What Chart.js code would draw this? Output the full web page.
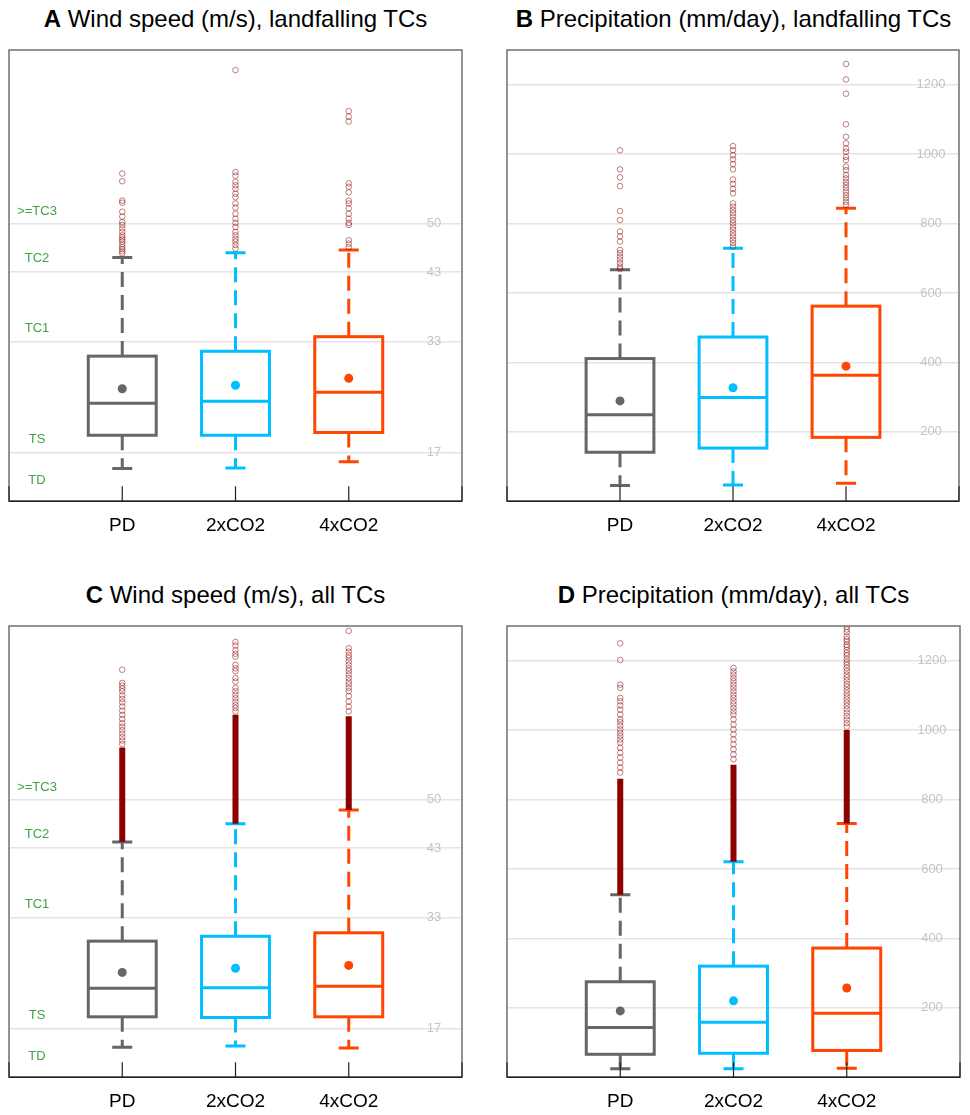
<!DOCTYPE html>
<html>
<head>
<meta charset="utf-8">
<script src="https://cdn.jsdelivr.net/npm/chart.js@4.4.0/dist/chart.umd.min.js"></script>
<style>
  body { margin: 0; background: #fff; }
  #wrap { position: relative; width: 970px; height: 1115px; font-family: "Liberation Sans", Arial, Helvetica, sans-serif; }
  .title { position: absolute; text-align: center; font-size: 24px; line-height: 24px; color: #000; white-space: nowrap; }
  canvas { position: absolute; }
</style>
</head>
<body>
<div id="wrap">
  <div class="title" style="left:9px;top:7px;width:453px"><b>A</b> Wind speed (m/s), landfalling TCs</div>
  <div class="title" style="left:507px;top:7px;width:453px"><b>B</b> Precipitation (mm/day), landfalling TCs</div>
  <div class="title" style="left:9px;top:583px;width:453px"><b>C</b> Wind speed (m/s), all TCs</div>
  <div class="title" style="left:507px;top:583px;width:453px"><b>D</b> Precipitation (mm/day), all TCs</div>
  <canvas id="chartA" width="485" height="510" style="left:0;top:40px"></canvas>
  <canvas id="chartB" width="485" height="510" style="left:485px;top:40px"></canvas>
  <canvas id="chartC" width="485" height="510" style="left:0;top:616px"></canvas>
  <canvas id="chartD" width="485" height="510" style="left:485px;top:616px"></canvas>
</div>
<script>
// categories and axis marks
const groups = ['PD', '2xCO2', '4xCO2'];
const windGrid = [17, 33, 43, 50];
const precipGrid = [200, 400, 600, 800, 1000, 1200];
const windClasses = ['TD', 'TS', 'TC1', 'TC2', '>=TC3'];
const windClassAt = [13.0, 18.9, 34.9, 45.0, 51.7];

// A: wind speed, landfalling TCs
const windLandLower = [14.7, 14.8, 15.7];
const windLandQ1 = [19.5, 19.5, 19.9];
const windLandMedian = [24.1, 24.4, 25.7];
const windLandMean = [26.2, 26.7, 27.7];
const windLandQ3 = [30.9, 31.6, 33.7];
const windLandUpper = [45.1, 45.8, 46.2];
const windLandOutPD = [57.2, 56.1, 53.3, 53.0, 51.7, 51.0, 50.2, 49.8, 49.3, 48.8, 48.3, 48.0, 47.7, 47.4, 47.0, 46.6, 46.3, 46.0, 45.7];
const windLandOut2x = [72.1, 57.4, 56.9, 56.0, 55.5, 55.0, 54.3, 53.8, 52.9, 52.3, 51.4, 50.7, 50.1, 49.5, 48.8, 48.3, 47.8, 47.4, 46.9, 46.4];
const windLandOut4x = [66.2, 65.4, 64.7, 55.8, 55.3, 54.5, 53.3, 52.9, 52.2, 51.4, 50.7, 50.1, 49.8, 47.6, 47.1, 46.6];

// B: precipitation, landfalling TCs
const precLandLower = [45, 47, 52];
const precLandQ1 = [141, 153, 184];
const precLandMedian = [249, 299, 363];
const precLandMean = [289, 327, 389];
const precLandQ3 = [411, 473, 562];
const precLandUpper = [667, 729, 844];
const precLandOutPD = [1011, 956, 933, 908, 836, 810, 777, 763, 748, 724, 715, 705, 696, 686, 676, 669];
const precLandOut2x = [1023, 1011, 997, 985, 971, 956, 927, 914, 900, 887, 858, 849, 839, 830, 820, 810, 801, 791, 782, 772, 763, 753, 744, 734];
const precLandOut4x = [1260, 1215, 1174, 1086, 1050, 1031, 1016, 1007, 992, 983, 964, 954, 940, 930, 920, 911, 902, 892, 882, 873, 863, 854];

// C: wind speed, all TCs (outliers so dense they merge into a solid band up to *BandTop)
const windAllLower = [14.3, 14.5, 14.2];
const windAllQ1 = [18.7, 18.6, 18.7];
const windAllMedian = [22.8, 22.9, 23.1];
const windAllMean = [25.1, 25.7, 26.1];
const windAllQ3 = [29.6, 30.3, 30.8];
const windAllUpper = [43.9, 46.5, 48.5];
const windAllBandTop = [57.5, 62.2, 62.0];
const windAllOutPD = [68.7, 66.8, 66.4, 66.0, 65.6, 65.0, 64.5, 64.0, 63.4, 62.8, 62.2, 61.6, 61.0, 60.5, 60.0, 59.5, 59.0, 58.5, 58.0];
const windAllOut2x = [72.7, 72.2, 71.5, 71.0, 70.6, 69.4, 68.9, 68.5, 67.5, 67.0, 66.1, 65.6, 65.1, 64.6, 64.1, 63.6, 63.2, 62.7];
const windAllOut4x = [74.3, 71.8, 71.3, 70.8, 70.4, 69.9, 69.4, 68.9, 68.5, 68.0, 67.5, 67.0, 66.6, 66.1, 65.6, 64.9, 64.1, 63.4, 62.7];

// D: precipitation, all TCs
const precAllLower = [24, 24, 26];
const precAllQ1 = [66, 69, 77];
const precAllMedian = [143, 158, 184];
const precAllMean = [191, 220, 257];
const precAllQ3 = [275, 320, 372];
const precAllUpper = [526, 621, 731];
const precAllBandTop = [860, 900, 1000];
const precAllOutPD = [1250, 1202, 1131, 1122, 1093, 1083, 1071, 1059, 1045, 1031, 1023, 1013, 1002, 992, 983, 973, 964, 949, 935, 921, 906, 892, 878];
const precAllOut2x = [1179, 1169, 1160, 1150, 1141, 1131, 1122, 1112, 1102, 1093, 1083, 1074, 1064, 1054, 1045, 1031, 1016, 1002, 988, 973, 959, 945, 930, 916];
const precAllOut4x = [1298, 1290, 1282, 1270, 1262, 1255, 1246, 1240, 1231, 1222, 1215, 1205, 1196, 1188, 1179, 1170, 1160, 1152, 1143, 1133, 1125, 1115, 1106, 1097, 1088, 1079, 1070, 1060, 1050, 1040, 1030, 1020, 1010];

// styles
const groupColors = ['#666666', '#00bfff', '#ff4500'];
const outlierColor = 'rgba(139,0,0,0.5)';
const bandColor = '#8b0000';
const FONT = '"Liberation Sans", Arial, Helvetica, sans-serif';

const panels = [
  { id: 'chartA', min: 10, max: 75, grid: windGrid, classes: true, pad: [9, 23],
    lower: windLandLower, q1: windLandQ1, median: windLandMedian, mean: windLandMean, q3: windLandQ3, upper: windLandUpper,
    outliers: [windLandOutPD, windLandOut2x, windLandOut4x], band: null },
  { id: 'chartB', min: 0, max: 1300, grid: precipGrid, classes: false, pad: [22, 11],
    lower: precLandLower, q1: precLandQ1, median: precLandMedian, mean: precLandMean, q3: precLandQ3, upper: precLandUpper,
    outliers: [precLandOutPD, precLandOut2x, precLandOut4x], band: null },
  { id: 'chartC', min: 10, max: 75, grid: windGrid, classes: true, pad: [9, 23],
    lower: windAllLower, q1: windAllQ1, median: windAllMedian, mean: windAllMean, q3: windAllQ3, upper: windAllUpper,
    outliers: [windAllOutPD, windAllOut2x, windAllOut4x], band: windAllBandTop },
  { id: 'chartD', min: 0, max: 1300, grid: precipGrid, classes: false, pad: [22, 10],
    lower: precAllLower, q1: precAllQ1, median: precAllMedian, mean: precAllMean, q3: precAllQ3, upper: precAllUpper,
    outliers: [precAllOutPD, precAllOut2x, precAllOut4x], band: precAllBandTop }
];

// draws boxes, whiskers, in-plot labels and the frame using the chart's scales
function boxPlugin(p) {
  return {
    id: 'boxes',
    beforeDatasetsDraw(chart) {
      const { ctx, chartArea: a, scales: { x, y } } = chart;
      ctx.save();
      ctx.textAlign = 'center';
      ctx.textBaseline = 'middle';
      ctx.font = '13px ' + FONT;
      ctx.fillStyle = '#c4c4c4';
      p.grid.forEach(v => ctx.fillText(String(v), a.right - 28, y.getPixelForValue(v)));
      if (p.classes) {
        ctx.fillStyle = '#42a442';
        windClasses.forEach((t, i) => ctx.fillText(t, a.left + 28, y.getPixelForValue(windClassAt[i])));
      }
      const unit = x.getPixelForValue(1) - x.getPixelForValue(0);
      const half = unit * 0.3;
      const cap = 10;
      groups.forEach((g, i) => {
        const cx = x.getPixelForValue(i + 1);
        const yLo = y.getPixelForValue(p.lower[i]);
        const yQ1 = y.getPixelForValue(p.q1[i]);
        const yMed = y.getPixelForValue(p.median[i]);
        const yQ3 = y.getPixelForValue(p.q3[i]);
        const yHi = y.getPixelForValue(p.upper[i]);
        ctx.strokeStyle = groupColors[i];
        ctx.lineWidth = 3;
        ctx.setLineDash([15, 8]);
        ctx.beginPath();
        ctx.moveTo(cx, yQ3); ctx.lineTo(cx, yHi);
        ctx.moveTo(cx, yQ1); ctx.lineTo(cx, yLo);
        ctx.stroke();
        ctx.setLineDash([]);
        ctx.beginPath();
        ctx.moveTo(cx - cap, yHi); ctx.lineTo(cx + cap, yHi);
        ctx.moveTo(cx - cap, yLo); ctx.lineTo(cx + cap, yLo);
        ctx.moveTo(cx - half, yMed); ctx.lineTo(cx + half, yMed);
        ctx.stroke();
        ctx.strokeRect(cx - half, yQ3, half * 2, yQ1 - yQ3);
      });
      ctx.restore();
    },
    afterDraw(chart) {
      const { ctx, chartArea: a, scales: { x } } = chart;
      ctx.save();
      ctx.strokeStyle = '#707070';
      ctx.lineWidth = 1.5;
      ctx.strokeRect(a.left, a.top, a.right - a.left, a.bottom - a.top);
      ctx.strokeStyle = '#222';
      ctx.beginPath();
      ctx.moveTo(a.left, a.bottom); ctx.lineTo(a.right, a.bottom);
      ctx.stroke();
      ctx.lineWidth = 1.2;
      ctx.beginPath();
      for (let k = 0; k <= groups.length + 1; k++) {
        const px = x.getPixelForValue(k);
        ctx.moveTo(px, a.bottom); ctx.lineTo(px, a.bottom - 15);
      }
      ctx.stroke();
      ctx.restore();
    }
  };
}

function makePanel(p) {
  const datasets = [];
  datasets.push({
    type: 'scatter',
    data: groups.map((g, i) => ({ x: i + 1, y: p.mean[i] })),
    pointRadius: 4.5,
    pointBorderWidth: 0,
    pointBackgroundColor: groupColors
  });
  datasets.push({
    type: 'scatter',
    data: p.outliers.flatMap((list, i) => list.map(v => ({ x: i + 1, y: v }))),
    pointRadius: 2.8,
    pointBorderWidth: 1,
    pointBorderColor: outlierColor,
    pointBackgroundColor: 'rgba(0,0,0,0)'
  });
  if (p.band) {
    groups.forEach((g, i) => {
      datasets.push({
        type: 'line',
        data: [{ x: i + 1, y: p.upper[i] }, { x: i + 1, y: p.band[i] }],
        borderColor: bandColor,
        borderWidth: 6,
        pointRadius: 0
      });
    });
  }
  new Chart(document.getElementById(p.id), {
    type: 'scatter',
    data: { datasets },
    options: {
      responsive: false,
      animation: false,
      events: [],
      layout: { padding: { left: p.pad[0], right: p.pad[1], top: 10, bottom: 0 } },
      plugins: { legend: { display: false }, tooltip: { enabled: false } },
      scales: {
        x: {
          type: 'linear', min: 0, max: groups.length + 1, bounds: 'data',
          afterBuildTicks: s => { s.ticks = groups.map((g, i) => ({ value: i + 1 })); },
          grid: { display: false, drawTicks: false },
          border: { display: false },
          ticks: {
            color: '#000', padding: 13, maxRotation: 0, autoSkip: false,
            font: { family: FONT, size: 19 },
            callback: v => groups[v - 1] || ''
          }
        },
        y: {
          type: 'linear', min: p.min, max: p.max, bounds: 'data',
          afterBuildTicks: s => { s.ticks = p.grid.map(v => ({ value: v })); },
          grid: { color: '#e4e4e4', lineWidth: 1.5, drawTicks: false },
          border: { display: false },
          ticks: { display: false }
        }
      }
    },
    plugins: [boxPlugin(p)]
  });
}

panels.forEach(makePanel);
</script>
</body>
</html>
